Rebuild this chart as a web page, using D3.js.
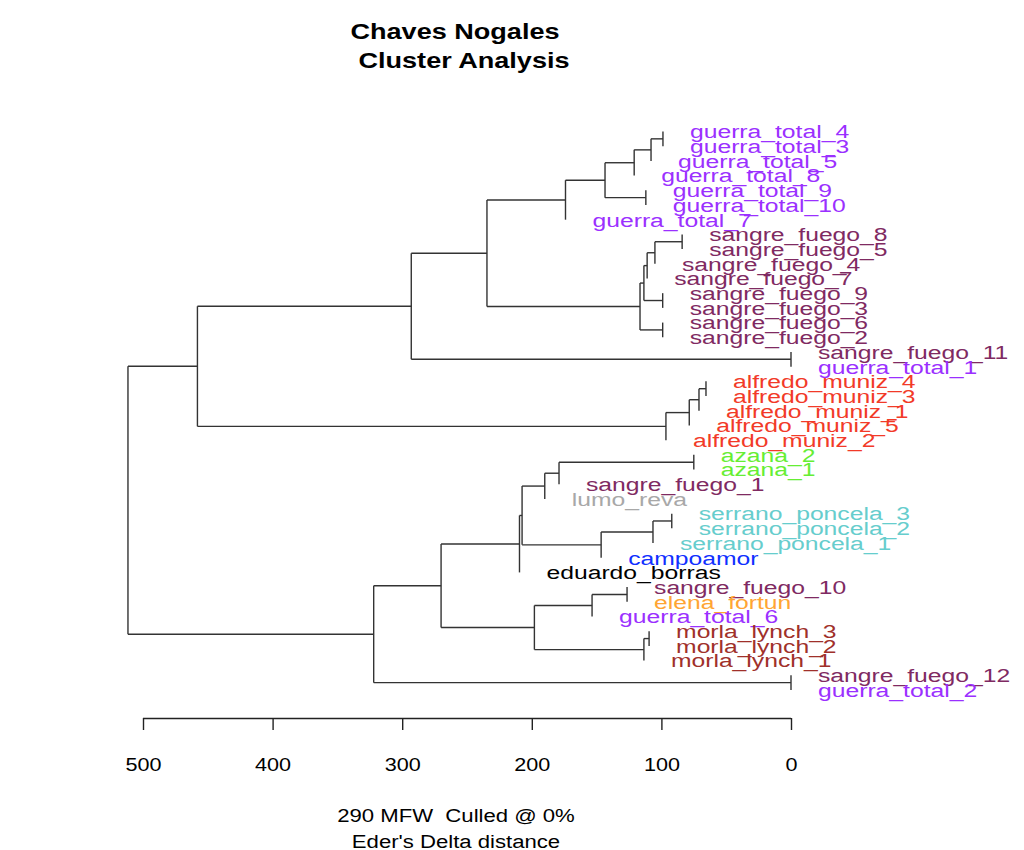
<!DOCTYPE html>
<html><head><meta charset="utf-8">
<script src="https://cdn.jsdelivr.net/npm/d3@7"></script>
<style>body{margin:0;background:#fff}svg{font-family:"Liberation Sans",Arial,sans-serif}</style>
</head><body><svg id="c" width="1024" height="850"></svg>
<script>
const leaves = ["guerra_total_4","guerra_total_3","guerra_total_5","guerra_total_8","guerra_total_9","guerra_total_10","guerra_total_7",
"sangre_fuego_8","sangre_fuego_5","sangre_fuego_4","sangre_fuego_7","sangre_fuego_9","sangre_fuego_3","sangre_fuego_6","sangre_fuego_2",
"sangre_fuego_11","guerra_total_1","alfredo_muniz_4","alfredo_muniz_3","alfredo_muniz_1","alfredo_muniz_5","alfredo_muniz_2",
"azana_2","azana_1","sangre_fuego_1","lumo_reva","serrano_poncela_3","serrano_poncela_2","serrano_poncela_1","campoamor",
"eduardo_borras","sangre_fuego_10","elena_fortun","guerra_total_6","morla_lynch_3","morla_lynch_2","morla_lynch_1",
"sangre_fuego_12","guerra_total_2"];
const authorColors = {guerra_total:"#9B30FF",sangre_fuego:"#7F2A62",alfredo_muniz:"#F23A28",azana:"#66EE33",lumo_reva:"#A8A8A8",
serrano_poncela:"#66CDCD",campoamor:"#1030FF",eduardo_borras:"#000000",elena_fortun:"#FFA533",morla_lynch:"#A0302A"};
// merges: [child1, child2, height]
const merges = [
["guerra_total_4","guerra_total_3",98.8],["n1","guerra_total_5",108],["n2","guerra_total_8",121],
["guerra_total_9","guerra_total_10",112],["n3","n4",143.5],["n5","guerra_total_7",174],
["sangre_fuego_8","sangre_fuego_5",84],["n7","sangre_fuego_4",105],["n8","sangre_fuego_7",111],
["sangre_fuego_9","sangre_fuego_3",99],["n9","n10",113.5],["sangre_fuego_6","sangre_fuego_2",99],
["n11","n12",116.5],["n6","n13",234.6],["sangre_fuego_11","guerra_total_1",0],["n14","n15",293],
["alfredo_muniz_4","alfredo_muniz_3",65.6],["n17","alfredo_muniz_1",71],["n18","alfredo_muniz_5",78.5],
["n19","alfredo_muniz_2",96.5],["n16","n20",458],
["azana_2","azana_1",75],["n22","sangre_fuego_1",179],["n23","lumo_reva",190],
["serrano_poncela_3","serrano_poncela_2",92],["n25","serrano_poncela_1",106.5],["n26","campoamor",146.5],
["n24","n27",207.5],["n28","eduardo_borras",209.5],["sangre_fuego_10","elena_fortun",126.5],
["n30","guerra_total_6",153.5],["morla_lynch_3","morla_lynch_2",109.5],["n32","morla_lynch_1",113.5],
["n31","n33",198],["n29","n34",270],["sangre_fuego_12","guerra_total_2",0],["n35","n36",322],["n21","n37",511.6]];
const ticks = [500,400,300,200,100,0];

const svg = d3.select("#c");
const x = d3.scaleLinear().domain([500,0]).range([143,791]);
const y = d3.scalePoint().domain(leaves).range([131.5,690]);
const pos = {};
leaves.forEach(l=>pos[l]={y:y(l),leaf:true});
merges.forEach((m,i)=>{
  const id="n"+(i+1);
  pos[id]={y:(pos[m[0]].y+pos[m[1]].y)/2,h:m[2]};
  [m[0],m[1]].forEach(c=>{ if(pos[c].leaf) pos[c].h=m[2]; });
});
const g = svg.append("g").attr("stroke","#333").attr("stroke-width",1.4).attr("fill","none");
merges.forEach((m,i)=>{
  const p=pos["n"+(i+1)];
  g.append("line").attr("x1",x(p.h)).attr("x2",x(p.h)).attr("y1",pos[m[0]].y).attr("y2",pos[m[1]].y);
  [m[0],m[1]].forEach(c=>{
    const q=pos[c];
    if(!q.leaf) g.append("line").attr("x1",x(p.h)).attr("x2",x(q.h)).attr("y1",q.y).attr("y2",q.y);
  });
});
const colorOf = l => { const k=Object.keys(authorColors).find(a=>l.startsWith(a)); return authorColors[k]; };
svg.append("g").selectAll("text").data(leaves).join("text")
  .attr("transform",d=>`translate(${x(pos[d].h)+27},${pos[d].y}) scale(1.3,1)`).attr("dy","0.36em")
  .attr("font-size",19).attr("fill",colorOf).text(d=>d);

const ax = svg.append("g").attr("transform","translate(0,718)")
  .call(d3.axisBottom(x).tickValues(ticks).tickSize(12).tickPadding(18).tickFormat(d3.format("d")));
ax.select(".domain").attr("d",`M${x(500)},0.5H${x(0)}`).attr("stroke","#222").attr("stroke-width",1.4);
ax.selectAll(".tick line").attr("stroke","#222").attr("stroke-width",1.4);
ax.selectAll(".tick text").attr("y",null).attr("dy",null)
  .attr("transform","translate(0,53) scale(1.2,1)").attr("font-size",18).attr("fill","#000")
  .attr("font-family","Liberation Sans, Arial, sans-serif");

function txt(tx,ty,s,size,bold){
  svg.append("text").attr("transform",`translate(${tx},${ty}) scale(1.23,1)`).attr("text-anchor","middle")
    .attr("font-size",size).attr("font-weight",bold?"bold":"normal").attr("xml:space","preserve").text(s);
}
txt(455,39,"Chaves Nogales",22,true);
txt(464,68,"Cluster Analysis",22,true);
txt(456,822,"290 MFW  Culled @ 0%",18,false);
txt(456,848,"Eder's Delta distance",18,false);
</script></body></html>
